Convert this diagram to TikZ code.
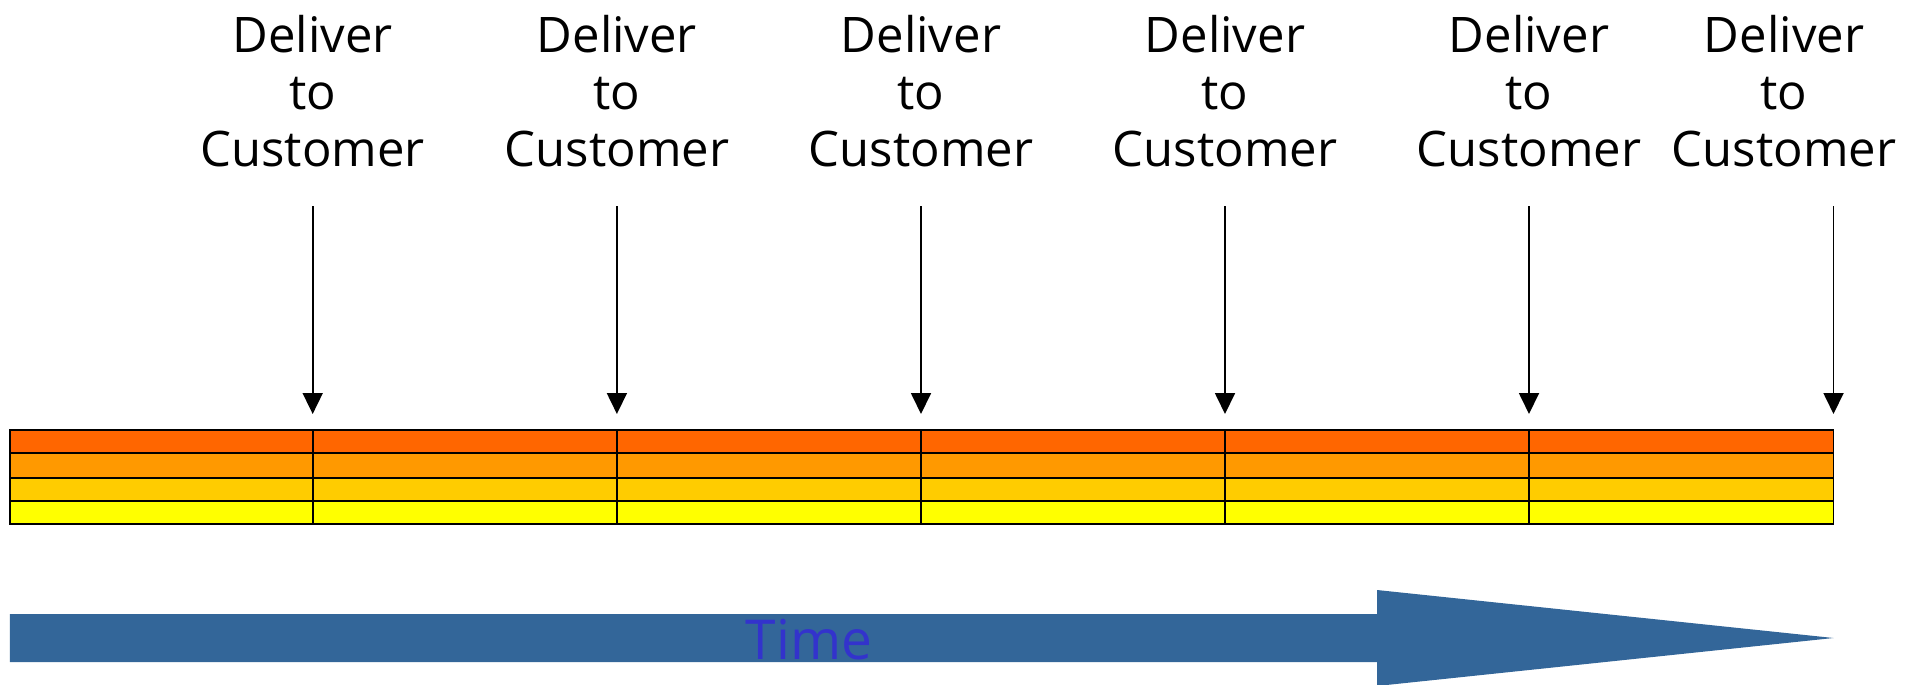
\documentclass[tikz,border=0pt]{standalone}
\usepackage{fontspec}
\setmainfont{Open Sans}
\usetikzlibrary{arrows.meta}
\definecolor{rowA}{HTML}{FF6600}
\definecolor{rowB}{HTML}{FF9900}
\definecolor{rowC}{HTML}{FFCC00}
\definecolor{rowD}{HTML}{FFFF00}
\definecolor{timeblue}{HTML}{336699}
\definecolor{timetext}{HTML}{3333CC}
\tikzset{
  lbl/.style={align=center, anchor=north, inner sep=0pt, font=\fontsize{49}{57}\selectfont},
  cell/.style={draw=black, line width=1.8pt},
  deliv/.style={draw=black, line width=1.8pt, -{Triangle[length=21pt,width=20pt]}},
}
\begin{document}
\begin{tikzpicture}[x=1pt,y=-1pt]
\useasboundingbox (0,0) rectangle (1923,685);
% time arrow
\fill[timeblue] (9.8,614) -- (1377,614) -- (1377,590) -- (1833.5,638) -- (1377,686) -- (1377,662) -- (9.8,662) -- cycle;
\node[font=\fontsize{55}{60}\selectfont, text=timetext, anchor=base, inner sep=0pt] (time) at (809,659) {Time};
% rows
\foreach \ya/\yb/\c [count=\r] in {430/453/rowA,453/477.7/rowB,477.7/501/rowC,501/524.3/rowD}{
  \filldraw[cell, fill=\c] (9.8,\ya) rectangle (1833.5,\yb);
}
% dividers
\foreach \x in {312.7,616.9,921,1225,1529}{
  \draw[line width=1.8pt] (\x,430) -- (\x,524.3);
}
% labels and arrows
\foreach \x/\lx [count=\i] in {312.7/312.7,616.9/616.9,921/921,1225/1225,1529/1529,1833.5/1784}{
  \node[lbl] (L\i) at (\lx,15) {Deliver\\to\\Customer};
  \coordinate (S\i) at (\x,206);
  \coordinate (T\i) at (\x,414);
  \draw[deliv] (S\i) -- (T\i);
}
\end{tikzpicture}
\end{document}
